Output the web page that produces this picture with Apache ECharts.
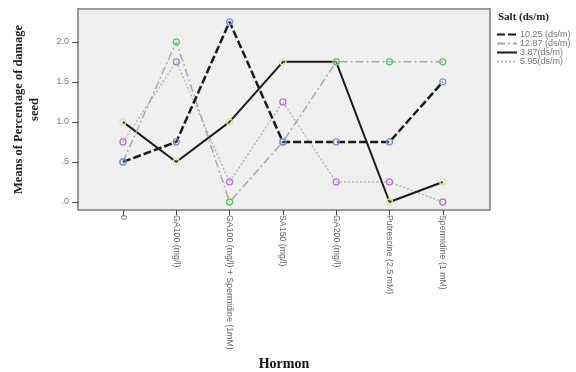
<!DOCTYPE html>
<html><head><meta charset="utf-8">
<script src="https://cdn.jsdelivr.net/npm/echarts@6/dist/echarts.min.js"></script>
<style>html,body{margin:0;padding:0;background:#fff}#c{width:576px;height:372px}</style>
</head><body><div id="c"></div>
<script>
const categories = ['0', 'GA100 (mg/l)', 'GA100 (mg/l) + Spermidine (1mM)', 'SA150 (mg/l)', 'GA200 (mg/l)', 'Putrescine (2.5 mM)', 'Spermidine (1 mM)'];
const seriesNames = ['10.25 (ds/m)', '12.87 (ds/m)', '3.87(ds/m)', '5.95(ds/m)'];
const salt1025 = [0.5, 0.75, 2.25, 0.75, 0.75, 0.75, 1.5];
const salt1287 = [0.5, 2.0, 0.0, 0.75, 1.75, 1.75, 1.75];
const salt387  = [1.0, 0.5, 1.0, 1.75, 1.75, 0.0, 0.25];
const salt595  = [0.75, 1.75, 0.25, 1.25, 0.25, 0.25, 0.0];
const yTicks = [0, 0.5, 1.0, 1.5, 2.0];

const values = [salt1025, salt1287, salt387, salt595];
const lineStyles = [
  {color:'#1a1a1a', width:2.5, type:[8,3]},
  {color:'#a8a8a8', width:1.5, type:[8,3,2,3]},
  {color:'#1a1a1a', width:2, type:'solid'},
  {color:'#b8b8b8', width:1.5, type:[2,2]}
];
const markerColors = ['#7f8fd0', '#55c468', '#e6e0a8', '#b477c4'];

const chart = echarts.init(document.getElementById('c'), null, {renderer:'canvas'});
const serif = '"Liberation Serif","DejaVu Serif",serif';
const sans = '"Liberation Sans","DejaVu Sans",sans-serif';

chart.setOption({
  animation:false,
  backgroundColor:'#fff',
  grid:{left:78, top:9, width:412, height:201, show:true, backgroundColor:'#f0f0f0', borderColor:'#9a9a9a', borderWidth:2, outerBoundsMode:'none', containLabel:false},
  xAxis:{
    type:'value', min:-0.844, max:6.886,
    name:'Hormon', nameLocation:'middle', nameGap:144,
    nameTextStyle:{fontFamily:serif, fontWeight:'bold', fontSize:14, color:'#111'},
    axisLine:{show:false, onZero:false}, splitLine:{show:false},
    axisTick:{show:true, inside:false, length:5, lineStyle:{color:'#444', width:1}, customValues:categories.map((c,i)=>i)},
    axisLabel:{rotate:-90, fontFamily:sans, fontSize:8.8, color:'#666', margin:5,
      customValues:categories.map((c,i)=>i),
      formatter:(v)=>categories[Math.round(v)]}
  },
  yAxis:{
    type:'value', min:-0.1, max:2.41,
    name:'Means of Percentage of damage\nseed', nameLocation:'middle', nameGap:35, nameRotate:90,
    nameTextStyle:{fontFamily:serif, fontWeight:'bold', fontSize:12.5, color:'#222', lineHeight:16},
    axisLine:{show:false, onZero:false}, splitLine:{show:false},
    axisTick:{show:true, inside:false, length:6, lineStyle:{color:'#444', width:1}, customValues:yTicks},
    axisLabel:{fontFamily:sans, fontSize:9, color:'#777', margin:9, customValues:yTicks,
      formatter:(v)=>v.toFixed(1).replace(/^0/, '')}
  },
  legend:{
    orient:'vertical', left:491, top:25, itemGap:0, itemWidth:20, itemHeight:7,
    data:seriesNames, itemStyle:{opacity:0},
    textStyle:{fontFamily:sans, fontSize:9, lineHeight:8.5, color:'#777', padding:[0,0,0,-2]},
    selectedMode:false
  },
  graphic:[{type:'text', left:498, top:12, style:{text:'Salt (ds/m)', font:'bold 11px "Liberation Serif", serif', fill:'#222'}}],
  series: seriesNames.map((n,k)=>({
    name:n, type:'line',
    data: values[k].map((v,i)=>[i,v]),
    symbol:'circle', symbolSize:6,
    lineStyle: lineStyles[k],
    itemStyle:{color:'rgba(255,255,255,0.15)', borderColor:markerColors[k], borderWidth:1.3},
    z: 10-k
  }))
});
</script></body></html>
